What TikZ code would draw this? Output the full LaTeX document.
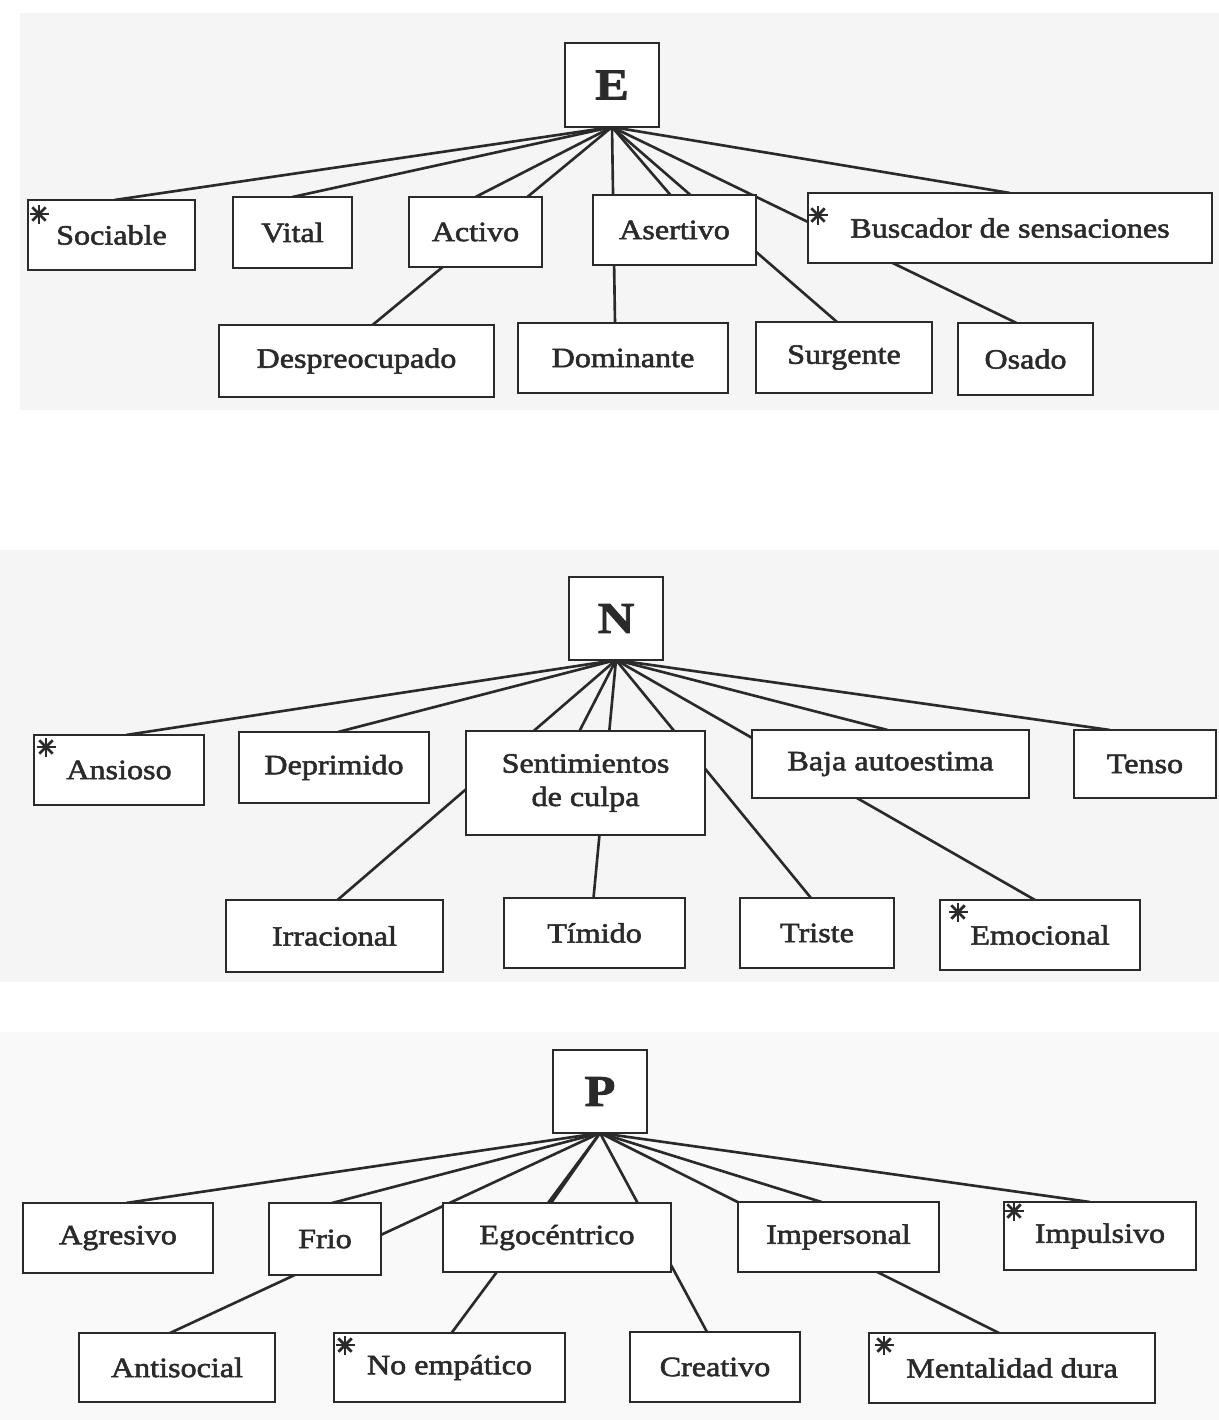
\documentclass[tikz,border=0pt]{standalone}
\usepackage{fontspec}
\newfontfamily\lblfont{Liberation Serif}[FakeStretch=1.15,FakeBold=2]
\usetikzlibrary{backgrounds}
\definecolor{ink}{HTML}{2A2A2A}
\definecolor{panel}{HTML}{F5F5F5}
\tikzset{
  cell/.style={draw=ink, line width=1.6pt, fill=white, inner sep=0pt, outer sep=0pt,
    text=ink, align=center, font=\lblfont\fontsize{15.9}{19}\selectfont},
  head/.style={cell, font=\lblfont\bfseries\fontsize{25}{28}\selectfont},
  link/.style={draw=ink, line width=1.5pt},
  ast/.pic={\foreach \a in {0,45,90,135} \draw[ink, line width=1.6pt] (\a:9.5) -- (\a+180:9.5);}
}
\newcommand\bx[7][cell]{\node[#1, minimum width={(#5-#3)*0.02cm}, minimum height={(#6-#4)*0.02cm}] (#2) at ({(#3+#5)/2},{(#4+#6)/2}) {#7};}
\begin{document}
\begin{tikzpicture}[x=0.02cm, y=-0.02cm]
\useasboundingbox (0,0) rectangle (1219,1420);
% ---------- E ----------
\bx[head]{E}{565}{43}{659}{127}{E}
\bx{soc}{28}{200}{195}{270}{Sociable}
\bx{vit}{233}{197}{352}{268}{Vital}
\bx{act}{409}{197}{542}{267}{Activo}
\bx{ase}{593}{195}{756}{265}{Asertivo}
\bx{bus}{808}{193}{1212}{263}{Buscador de sensaciones}
\bx{des}{219}{325}{494}{397}{Despreocupado}
\bx{dom}{518}{323}{728}{393}{Dominante}
\bx{sur}{756}{322}{932}{393}{Surgente}
\bx{osa}{958}{323}{1093}{395}{Osado}
% ---------- N ----------
\bx[head]{N}{569}{577}{663}{660}{N}
\bx{ans}{34}{735}{204}{805}{Ansioso}
\bx{dep}{239}{732}{429}{803}{Deprimido}
\bx{sen}{466}{731}{705}{835}{Sentimientos\\de culpa}
\bx{baj}{752}{730}{1029}{798}{Baja autoestima}
\bx{ten}{1074}{730}{1216}{798}{Tenso}
\bx{irr}{226}{900}{443}{972}{Irracional}
\bx{tim}{504}{898}{685}{968}{Tímido}
\bx{tri}{740}{898}{894}{968}{Triste}
\bx{emo}{940}{900}{1140}{970}{Emocional}
% ---------- P ----------
\bx[head]{P}{553}{1050}{647}{1133}{P}
\bx{agr}{23}{1203}{213}{1273}{Agresivo}
\bx{fri}{269}{1203}{381}{1275}{Frio}
\bx{ego}{443}{1203}{671}{1272}{Egocéntrico}
\bx{imp}{738}{1202}{939}{1272}{Impersonal}
\bx{ipu}{1004}{1202}{1196}{1270}{Impulsivo}
\bx{ant}{79}{1333}{275}{1402}{Antisocial}
\bx{noe}{334}{1333}{565}{1402}{No empático}
\bx{cre}{630}{1332}{800}{1402}{Creativo}
\bx{men}{869}{1333}{1155}{1403}{Mentalidad dura}
% ---------- connectors (behind the boxes) ----------
\begin{scope}[on background layer]
  \fill[panel] (20,13) rectangle (1219,410);
  \fill[panel] (0,550) rectangle (1219,982);
  \fill[panel!60!white] (0,1032) rectangle (1219,1420);
  \foreach \n/\o in {soc/3,vit/0,act/0,ase/-4,bus/0,des/16,dom/-8,sur/-7,osa/-9}
    \draw[link] (E.south) -- ([xshift=\o*0.02cm]\n.north);
  \foreach \n/\o in {ans/7,dep/4,sen/-6,baj/-3,ten/-35,irr/3,tim/-1,tri/-6,emo/-5}
    \draw[link] (N.south) -- ([xshift=\o*0.02cm]\n.north);
  \foreach \n/\o in {agr/8,fri/7,ego/-6,imp/-17,ipu/-10,ant/-7,noe/2,cre/-8,men/-13}
    \draw[link] (P.south) -- ([xshift=\o*0.02cm]\n.north);
\end{scope}
% ---------- asterisk marks ----------
\pic at (39,214) {ast};
\pic at (818,215) {ast};
\pic at (46,747) {ast};
\pic at (958,912) {ast};
\pic at (345,1345) {ast};
\pic at (1014,1211) {ast};
\pic at (884,1345) {ast};
\end{tikzpicture}
\end{document}
